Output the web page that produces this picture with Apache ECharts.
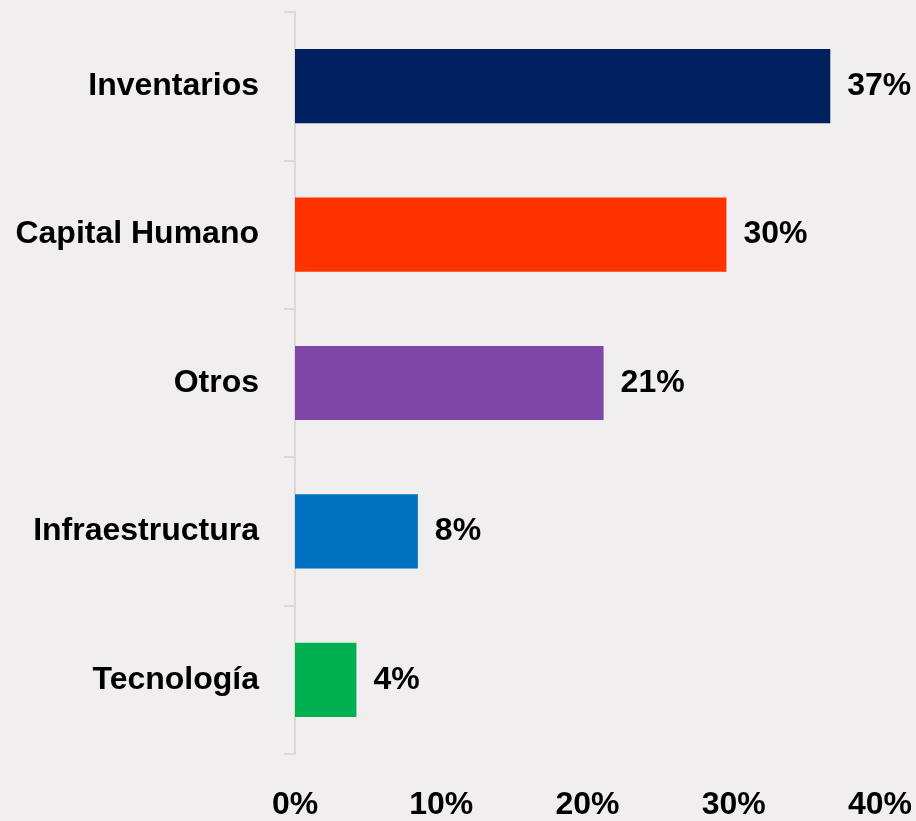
<!DOCTYPE html>
<html>
<head>
<meta charset="utf-8">
<script src="https://cdn.jsdelivr.net/npm/echarts@6/dist/echarts.min.js"></script>
<style>
    html, body { margin: 0; padding: 0; background: #F0EEEF; }
    #chart { width: 916px; height: 821px; }
</style>
</head>
<body>
<div id="chart"></div>
<script>
// datos
var categories = ['Inventarios', 'Capital Humano', 'Otros', 'Infraestructura', 'Tecnología'];
var values = [36.6, 29.5, 21.1, 8.4, 4.2];
var xTicks = [0, 10, 20, 30, 40];

var barColors = ['#002060', '#FF3300', '#7F46A8', '#0070C0', '#00B050'];
var font = '"Liberation Sans", Arial, sans-serif';

var chart = echarts.init(document.getElementById('chart'));
chart.setOption({
    backgroundColor: '#F0EEEF',
    animation: false,
    grid: { left: 295, right: 36, top: 12, bottom: 64 },
    xAxis: {
        type: 'value',
        min: xTicks[0],
        max: xTicks[xTicks.length - 1],
        interval: xTicks[1] - xTicks[0],
        axisLine: { show: false },
        axisTick: { show: false },
        splitLine: { show: false },
        axisLabel: {
            formatter: '{value}%',
            color: '#000',
            fontFamily: font,
            fontWeight: 'bold',
            fontSize: 32,
            margin: 35
        }
    },
    yAxis: {
        type: 'category',
        inverse: true,
        data: categories,
        axisLine: { show: true, lineStyle: { color: '#D9D9D9', width: 2 } },
        axisTick: { show: true, alignWithLabel: false, length: 11, lineStyle: { color: '#D9D9D9', width: 2 } },
        axisLabel: {
            color: '#000',
            fontFamily: font,
            fontWeight: 'bold',
            fontSize: 32,
            margin: 36,
            padding: [6, 0, 0, 0]
        }
    },
    series: [{
        type: 'bar',
        barCategoryGap: '50%',
        data: values.map(function (v, i) {
            return { value: v, itemStyle: { color: barColors[i] } };
        }),
        label: {
            show: true,
            position: 'right',
            distance: 17,
            color: '#000',
            fontFamily: font,
            fontWeight: 'bold',
            fontSize: 32,
            padding: [7, 0, 0, 0],
            formatter: function (p) { return Math.round(p.value) + '%'; }
        }
    }]
});
</script>
</body>
</html>
